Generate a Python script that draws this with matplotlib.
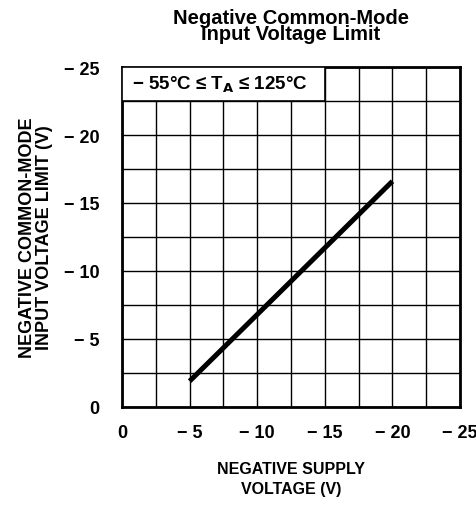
import matplotlib.pyplot as plt
from matplotlib.patches import Rectangle
from matplotlib.ticker import MultipleLocator, FixedLocator

# datos (V)
supply_v = [-5, -20]
cm_limit_v = [-1.9, -16.6]
tick_vals = [0, -5, -10, -15, -20, -25]
tick_txt = ['0', '\u2212 5', '\u2212 10', '\u2212 15', '\u2212 20', '\u2212 25']

cond = ['Liberation Sans Narrow', 'Liberation Sans', 'DejaVu Sans']

fig = plt.figure(figsize=(4.77, 5.06), dpi=100)
ax = fig.add_axes([0.2558, 0.1937, 0.7086, 0.6719])

ax.plot(supply_v, cm_limit_v, color='black', lw=3.6, solid_capstyle='butt')

ax.set_xlim(0, -25)
ax.set_ylim(0, -25)
ax.xaxis.set_major_locator(FixedLocator(tick_vals))
ax.yaxis.set_major_locator(FixedLocator(tick_vals))
ax.xaxis.set_minor_locator(MultipleLocator(2.5))
ax.yaxis.set_minor_locator(MultipleLocator(2.5))
ax.set_xticklabels(tick_txt, family=cond, fontweight='bold', fontsize=13)
ax.set_yticklabels(tick_txt, family=cond, fontweight='bold', fontsize=13)
ax.tick_params(which='both', length=0)
ax.tick_params(axis='x', pad=12)
ax.tick_params(axis='y', pad=16)
ax.grid(True, which='both', color='black', lw=1.0)
ax.set_axisbelow(True)
for s in ax.spines.values():
    s.set_linewidth(2)

# recuadro con la condicion de temperatura
ax.add_patch(Rectangle((0, -22.5), -15, -2.5, facecolor='white', edgecolor='black',
                       lw=1.2, zorder=3))
ax.text(-0.75, -23.75, '\u2212 55\u00b0C \u2264 T$_\\mathbf{A}$ \u2264 125\u00b0C',
        family=cond, fontweight='bold', fontsize=13.5, va='center', ha='left', zorder=4)

ax.set_xlabel('NEGATIVE SUPPLY\nVOLTAGE (V)', family=cond, fontweight='bold',
              fontsize=11.5, labelpad=15, linespacing=1.35)
ax.set_ylabel('NEGATIVE COMMON-MODE\nINPUT VOLTAGE LIMIT (V)', family=cond,
              fontweight='bold', fontsize=13, labelpad=8, linespacing=1.0)
ax.set_title('Negative Common-Mode\nInput Voltage Limit', family='Liberation Sans',
             fontweight='bold', fontsize=14.5, linespacing=0.8, pad=20)

fig.savefig('out.png', dpi=100)
